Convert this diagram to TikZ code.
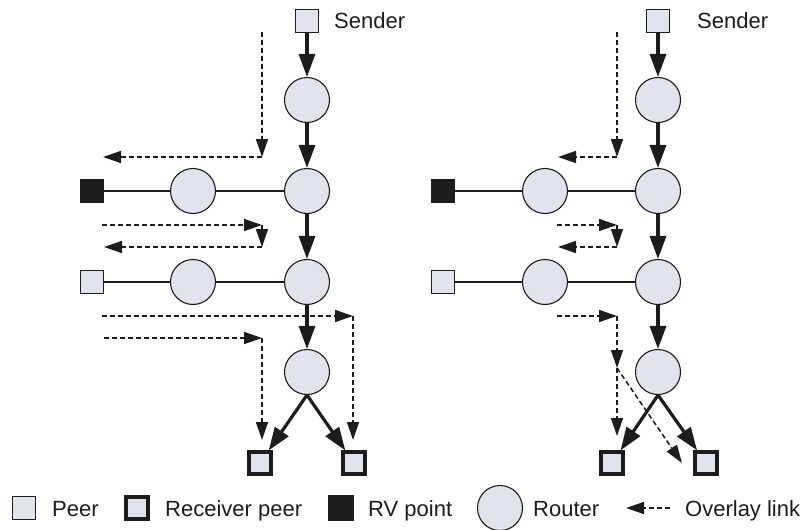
\documentclass[tikz,border=0pt]{standalone}
\usepackage{fontspec}
\setmainfont{Liberation Sans}
\usetikzlibrary{arrows.meta}
\definecolor{nodefill}{RGB}{225,228,237}
\definecolor{ink}{RGB}{28,28,28}
\tikzset{
  router/.style={circle, draw=ink, line width=1.1pt, fill=nodefill, minimum size=45pt, inner sep=0pt},
  peer/.style={rectangle, draw=ink, line width=1.4pt, fill=nodefill, minimum size=22.5pt, inner sep=0pt},
  recv/.style={peer, line width=3.2pt, minimum size=22pt},
  rvpt/.style={peer, fill=ink, minimum size=23pt},
  flow/.style={-{Triangle[length=23pt,width=16pt]}, line width=3.2pt, draw=ink},
  link/.style={line width=1.6pt, draw=ink},
  ovl/.style={-{Triangle[length=18pt,width=12pt]}, line width=1.5pt, dash pattern=on 5pt off 3pt, draw=ink},
  lbl/.style={font=\fontsize{22}{26}\selectfont, text=ink, inner sep=0pt, anchor=base west},
}
\begin{document}
\begin{tikzpicture}[x=1pt,y=-1pt]
\useasboundingbox (0,0) rectangle (807,530);

% ---------- left diagram ----------
\node[peer] (lS) at (307,21) {};
\node[lbl] (lSt) at (334,28) {Sender};
\node[router] (lR1) at (307,100) {};
\node[router] (lR2) at (307,191) {};
\node[router] (lL1) at (193,191) {};
\node[rvpt] (lRV) at (92,191) {};
\node[router] (lR3) at (307,282) {};
\node[router] (lL2) at (193,282) {};
\node[peer] (lP) at (92,282) {};
\node[router] (lR4) at (307,372) {};
\node[recv] (lA) at (260,463) {};
\node[recv] (lB) at (354,463) {};

\draw[link] (lRV) -- (lL1) -- (lR2);
\draw[link] (lP) -- (lL2) -- (lR3);
\draw[flow] (lS) -- (lR1);
\draw[flow] (lR1) -- (lR2);
\draw[flow] (lR2) -- (lR3);
\draw[flow] (lR3) -- (lR4);
\draw[flow] (lR4.south) -- (lA);
\draw[flow] (lR4.south) -- (lB);

\coordinate (la0) at (262,32);
\coordinate (la1) at (262,157);
\coordinate (la2) at (103,157);
\draw[ovl] (la0) -- (la1);
\draw[ovl] (la1) -- (la2);
\coordinate (lb0) at (102,225);
\coordinate (lb1) at (262,225);
\coordinate (lb2) at (262,247);
\coordinate (lb3) at (104,247);
\draw[ovl] (lb0) -- (lb1);
\draw[ovl] (lb1) -- (lb2);
\draw[ovl] (lb2) -- (lb3);
\coordinate (lc0) at (102,316);
\coordinate (lc1) at (353,316);
\coordinate (lc2) at (353,440);
\draw[ovl] (lc0) -- (lc1);
\draw[ovl] (lc1) -- (lc2);
\coordinate (ld0) at (104,338);
\coordinate (ld1) at (262,338);
\coordinate (ld2) at (262,440);
\draw[ovl] (ld0) -- (ld1);
\draw[ovl] (ld1) -- (ld2);

% ---------- right diagram ----------
\node[peer] (rS) at (658,21) {};
\node[lbl] (rSt) at (697,28) {Sender};
\node[router] (rR1) at (658,100) {};
\node[router] (rR2) at (658,191) {};
\node[router] (rL1) at (545,191) {};
\node[rvpt] (rRV) at (443,191) {};
\node[router] (rR3) at (658,282) {};
\node[router] (rL2) at (545,282) {};
\node[peer] (rP) at (443,282) {};
\node[router] (rR4) at (658,372) {};
\node[recv] (rA) at (612,463) {};
\node[recv] (rB) at (706,463) {};

\draw[link] (rRV) -- (rL1) -- (rR2);
\draw[link] (rP) -- (rL2) -- (rR3);
\draw[flow] (rS) -- (rR1);
\draw[flow] (rR1) -- (rR2);
\draw[flow] (rR2) -- (rR3);
\draw[flow] (rR3) -- (rR4);
\draw[flow] (rR4.south) -- (rA);
\draw[flow] (rR4.south) -- (rB);

\coordinate (ra0) at (617,32);
\coordinate (ra1) at (617,157);
\coordinate (ra2) at (558,157);
\draw[ovl] (ra0) -- (ra1);
\draw[ovl] (ra1) -- (ra2);
\coordinate (rb0) at (557,225);
\coordinate (rb1) at (617,225);
\coordinate (rb2) at (617,247);
\coordinate (rb3) at (558,247);
\draw[ovl] (rb0) -- (rb1);
\draw[ovl] (rb1) -- (rb2);
\draw[ovl] (rb2) -- (rb3);
\coordinate (rc0) at (557,316);
\coordinate (rc1) at (617,316);
\coordinate (rc2) at (617,368);
\coordinate (rc3) at (617,436);
\coordinate (rc4) at (682,463);
\draw[ovl] (rc0) -- (rc1);
\draw[ovl] (rc1) -- (rc2);
\draw[ovl] (rc2) -- (rc3);
\draw[ovl] (rc2) -- (rc4);

% ---------- legend ----------
\node[peer] (gP) at (24,508) {};
\node[lbl] (gPt) at (52,516) {Peer};
\node[recv] (gR) at (137,508) {};
\node[lbl] (gRt) at (165,516) {Receiver peer};
\node[rvpt, minimum size=24pt] (gV) at (341,508) {};
\node[lbl] (gVt) at (368,516) {RV point};
\node[router] (gC) at (500,508) {};
\node[lbl] (gCt) at (533,516) {Router};
\coordinate (go0) at (670,508);
\coordinate (go1) at (626,508);
\draw[ovl] (go0) -- (go1);
\node[lbl] (got) at (685,516) {Overlay link};
\end{tikzpicture}
\end{document}
